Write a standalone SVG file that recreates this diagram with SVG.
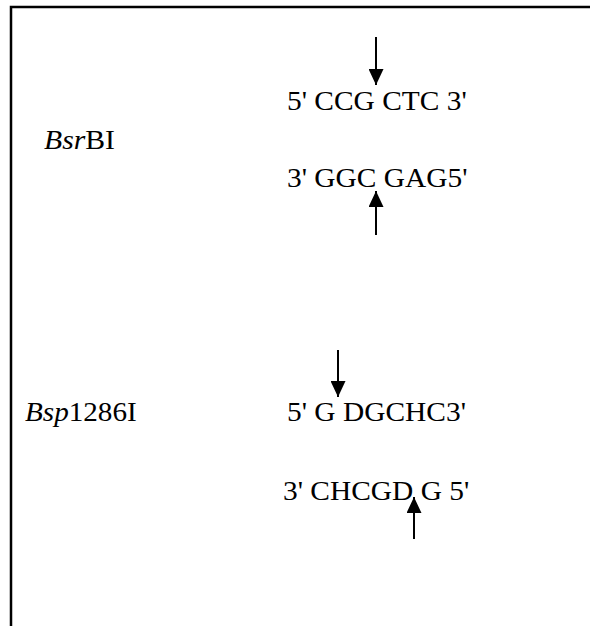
<svg xmlns="http://www.w3.org/2000/svg" width="590" height="626" viewBox="0 0 590 626">
<style>
text{font-family:"Liberation Serif","Times New Roman",serif;font-size:27.5px;fill:#000}
.b{stroke:#000;stroke-width:2.5;fill:none}
.a{stroke:#000;stroke-width:2;fill:none}
</style>
<defs>
<marker id="ah" viewBox="0 0 16 15" refX="16" refY="7.5" markerWidth="16" markerHeight="15" markerUnits="userSpaceOnUse" orient="auto">
<path d="M0,0 L16,7.5 L0,15 Z" fill="#000"/>
</marker>
</defs>
<rect width="590" height="626" fill="#fff"/>
<g id="frame">
<path class="b" d="M11,626 V7 H590"/>
</g>
<g id="bsrbi">
<text id="bsrbi-label" transform="matrix(1.08 0 0 1 44 149)"><tspan font-style="italic">Bsr</tspan>BI</text>
<text id="bsrbi-top" transform="matrix(1.07 0 0 1 287 110)">5' CCG CTC 3'</text>
<text id="bsrbi-bottom" transform="matrix(1.07 0 0 1 287 187)">3' GGC GAG5'</text>
</g>
<g id="bsp1286i">
<text id="bsp-label" transform="matrix(1.06 0 0 1 25 421)"><tspan font-style="italic">Bsp</tspan>1286I</text>
<text id="bsp-top" transform="matrix(1.07 0 0 1 287 421)">5' G DGCHC3'</text>
<text id="bsp-bottom" transform="matrix(1.07 0 0 1 283 500)">3' CHCGD G 5'</text>
</g>
<g id="connectors">
<line class="a" x1="376" y1="37" x2="376" y2="85" marker-end="url(#ah)"/>
<line class="a" x1="376" y1="235" x2="376" y2="191" marker-end="url(#ah)"/>
<line class="a" x1="338" y1="350" x2="338" y2="397" marker-end="url(#ah)"/>
<line class="a" x1="414" y1="539" x2="414" y2="497" marker-end="url(#ah)"/>
</g>
</svg>
